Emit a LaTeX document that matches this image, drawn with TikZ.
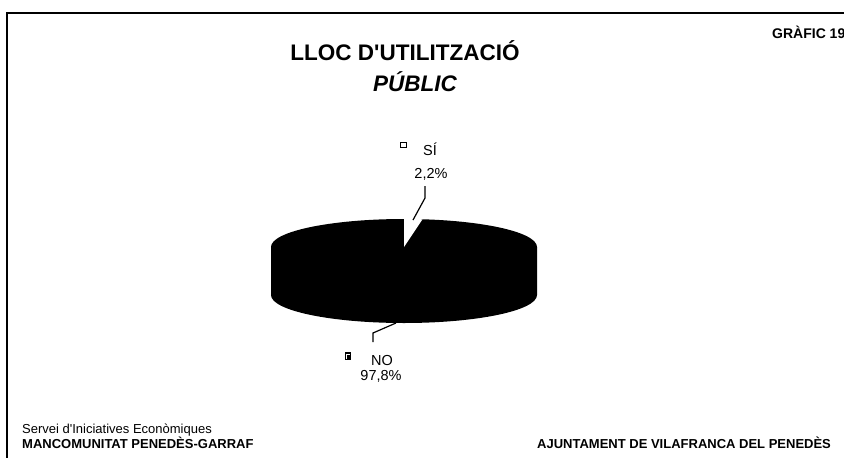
\documentclass[tikz,border=0pt]{standalone}
\usepackage{fontspec}
\setmainfont{Liberation Sans}
\begin{document}
\begin{tikzpicture}[x=1pt,y=-1pt,
  lbl/.style={inner sep=0pt, font=\fontsize{14.5}{16}\selectfont},
  foot/.style={inner sep=0pt, anchor=base west, font=\fontsize{13}{15}\selectfont},
  footb/.style={inner sep=0pt, anchor=base west, font=\fontsize{13}{15}\selectfont\bfseries},
  leader/.style={draw=black, line width=1.2pt},
  marker/.style={draw=black, line width=1.2pt, minimum width=5.5pt, minimum height=5pt, inner sep=0pt}]
\useasboundingbox (0,0) rectangle (844,458);
\clip (0,0) rectangle (844,458);
\fill[white] (0,0) rectangle (844,458);
% frame
\draw[line width=1.8pt] (7,470) -- (7,13) -- (860,13);
% titles
\node[inner sep=0pt, anchor=base, font=\fontsize{22.5}{26}\selectfont\bfseries] (t1) at (405,60) {LLOC D\textquotesingle UTILITZACIÓ};
\node[inner sep=0pt, anchor=base, font=\fontsize{22.5}{26}\selectfont\bfseries\itshape] (t2) at (415,91) {PÚBLIC};
\node[inner sep=0pt, anchor=base west, font=\fontsize{14}{16}\selectfont\bfseries] (g) at (772,38) {GRÀFIC 19};
% pie
\fill[black] (271,247) -- (271,295) arc[start angle=180, end angle=0, x radius=133, y radius=28] -- (537,247) -- cycle;
\fill[black] (404,247) ellipse [x radius=133, y radius=28];
\coordinate (c) at (404,247);
\fill[white] (c) -- ({404+133*cos(90)},{247-28*sin(90)}) -- ({404+133*cos(86)},{247-28*sin(86)}) -- ({404+133*cos(82)},{247-28*sin(82)}) -- cycle;
% SI label
\node[marker, fill=white] (m1) at (403.5,145) {};
\node[lbl, anchor=base west] (si) at (423,155) {SÍ};
\node[lbl, anchor=base] (sip) at (431,178) {2,2\%};
\coordinate (s0) at (413,220);
\coordinate (s1) at (425,198);
\coordinate (s2) at (425,186);
\draw[leader] (s0) -- (s1) -- (s2);
% NO label
\node[marker, fill=black, minimum height=7pt] (m2) at (348,356) {};
\draw[white, line width=0.5pt] (346.5,359) -- (346.5,354) -- (349.5,354);
\node[lbl, anchor=base west] (no) at (371,365) {NO};
\node[lbl, anchor=base] (nop) at (381,380) {97,8\%};
\coordinate (n0) at (396,323);
\coordinate (n1) at (373,333);
\coordinate (n2) at (373,342);
\draw[leader] (n0) -- (n1) -- (n2);
% footer
\node[foot] (f1) at (22,433) {Servei d\textquotesingle Iniciatives Econòmiques};
\node[footb] (f2) at (22,448) {MANCOMUNITAT PENEDÈS-GARRAF};
\node[footb] (f3) at (537,448) {AJUNTAMENT DE VILAFRANCA DEL PENEDÈS};
\end{tikzpicture}
\end{document}
